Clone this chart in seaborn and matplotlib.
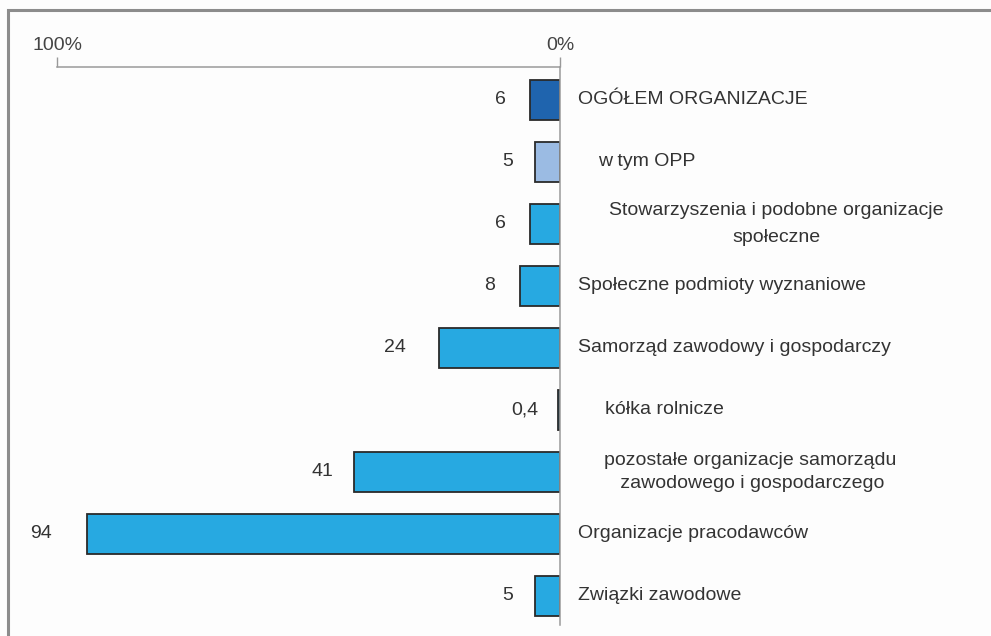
import numpy as np
import matplotlib
matplotlib.use("Agg")
import matplotlib.pyplot as plt
import seaborn as sns
import pandas as pd
from matplotlib.patches import Rectangle

# dane (%)
kategorie = [
    "OGÓŁEM ORGANIZACJE",
    "w tym OPP",
    "Stowarzyszenia i podobne organizacje\nspołeczne",
    "Społeczne podmioty wyznaniowe",
    "Samorząd zawodowy i gospodarczy",
    "kółka rolnicze",
    "pozostałe organizacje samorządu\n zawodowego i gospodarczego",
    "Organizacje pracodawców",
    "Związki zawodowe",
]
wartosci = [6, 5, 6, 8, 24, 0.4, 41, 94, 5]
kolory = ["#1f64ae", "#9bbbe3", "#27a9e1", "#27a9e1", "#27a9e1",
          "#27a9e1", "#27a9e1", "#27a9e1", "#27a9e1"]

# uklad etykiet (przesuniecie w px od osi 0%, wyrownanie, odstep wierszy)
uklad_etykiet = [(18, "left", 1.2), (38, "left", 1.2), (216, "center", 1.75),
                 (18, "left", 1.2), (18, "left", 1.2), (45, "left", 1.2),
                 (190, "center", 1.5), (18, "left", 1.2), (18, "left", 1.2)]
# odstep liczby od konca slupka (px)
odstep_liczb = [24, 22, 24, 25, 33, 20, 20, 35, 22]

W, H = 991, 636
fig = plt.figure(figsize=(W / 100, H / 100), dpi=100)
fig.patch.set_facecolor("#fdfdfd")
sns.set_style("white")
plt.rcParams["font.family"] = ["Liberation Sans", "DejaVu Sans"]

# ramka wokol wykresu
fig.add_artist(Rectangle((8 / W, -0.05), 1.2, 1 - 10 / H + 0.05, transform=fig.transFigure,
                         fill=False, edgecolor="#8c8c8c", linewidth=2.2))

ax = fig.add_axes([57 / W, 1 - 625 / H, 503 / W, (625 - 67) / H])
ax.set_facecolor("#fdfdfd")

df = pd.DataFrame({"kat": kategorie, "wart": wartosci})
sns.barplot(data=df, x="wart", y="kat", hue="kat", palette=kolory, legend=False,
            orient="h", width=0.64, saturation=1, edgecolor="#2a2a2a", linewidth=1.3, ax=ax)

ax.set_xlim(100, 0)
ax.set_ylim(len(kategorie) - 1 + 0.47, -0.53)

ax.xaxis.tick_top()
ax.set_xticks([100, 0])
ax.set_xticklabels(["100%", "0%"])
ax.tick_params(axis="x", direction="out", length=7, width=1, color="#999999",
               labelsize=14, labelcolor="#444444", pad=2, top=True, bottom=False)
ax.set_yticks([])
ax.set_xlabel("")
ax.set_ylabel("")

for s in ["bottom", "left"]:
    ax.spines[s].set_visible(False)
for s in ["top", "right"]:
    ax.spines[s].set_color("#9a9a9a")
    ax.spines[s].set_linewidth(1.1)

# wartosci przy slupkach
for i, v in enumerate(wartosci):
    tekst = f"{v:g}".replace(".", ",")
    ax.annotate(tekst, xy=(v, i), xytext=(-odstep_liczb[i] * 0.72, 0), textcoords="offset points",
                ha="right", va="center", fontsize=14, color="#333333")

# nazwy kategorii po prawej stronie osi 0%
for i, (kat, (dx, ha, ls)) in enumerate(zip(kategorie, uklad_etykiet)):
    ax.annotate(kat, xy=(0, i), xytext=(dx * 0.72, 0), textcoords="offset points",
                ha=ha, va="center", fontsize=14, color="#333333",
                multialignment="center", linespacing=ls, annotation_clip=False)

fig.savefig("out.png", dpi=100, facecolor=fig.get_facecolor())
